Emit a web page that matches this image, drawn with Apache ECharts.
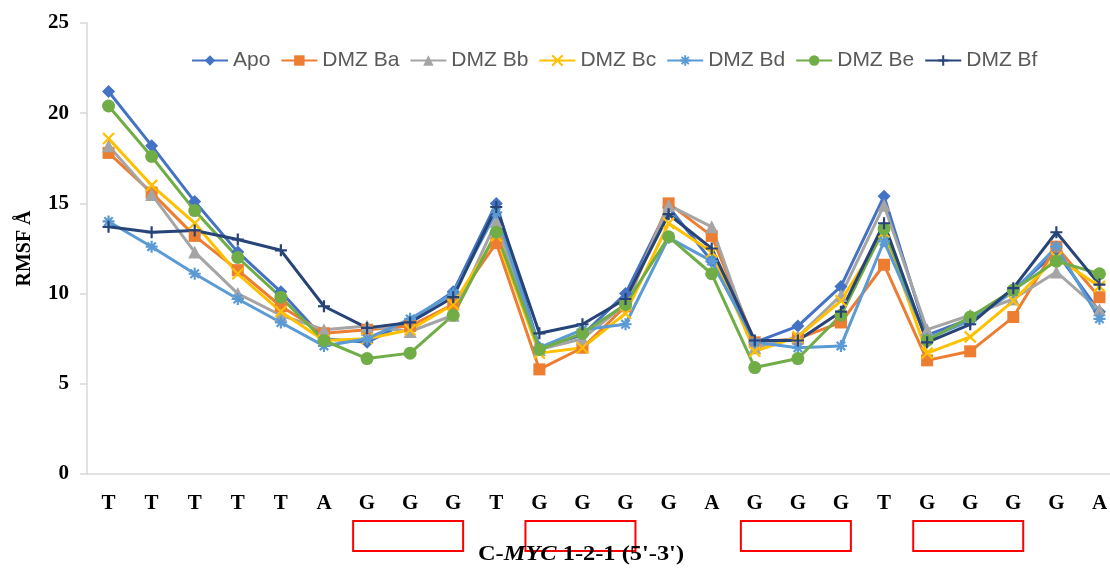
<!DOCTYPE html>
<html>
<head>
<meta charset="utf-8">
<script src="https://cdn.jsdelivr.net/npm/echarts@6/dist/echarts.min.js"></script>
<style>
  html, body { margin: 0; padding: 0; background: #fff; overflow: hidden; }
  #chart { width: 1130px; height: 569px; }
</style>
</head>
<body>
<div id="chart"></div>
<script>
// Nucleotide sequence of C-MYC 1-2-1 (5'-3')
const bases = ['T','T','T','T','T','A','G','G','G','T','G','G','G','G','A','G','G','G','T','G','G','G','G','A'];

// RMSF per residue (Å)
const apo   = [21.2,18.2,15.1,12.3,10.1,7.5,7.3,8.5,10.1,15.0,7.0,7.7,10.0,14.8,11.8,7.3,8.2,10.4,15.4,7.7,8.6,10.2,12.3,9.0];
const dmzBa = [17.8,15.6,13.2,11.3,9.3,7.8,8.0,8.2,9.4,12.8,5.8,7.0,9.3,15.0,13.2,7.3,7.5,8.4,11.6,6.3,6.8,8.7,12.6,9.8];
const dmzBb = [18.2,15.5,12.3,10.0,8.8,8.0,8.2,7.9,8.8,14.0,6.9,7.5,9.4,14.9,13.7,7.0,7.6,9.9,14.9,8.0,8.8,9.7,11.2,9.1];
const dmzBc = [18.6,16.0,13.9,11.1,9.0,7.4,7.5,8.0,9.4,13.2,6.7,7.0,8.9,13.9,12.3,6.8,7.6,9.6,13.4,6.7,7.6,9.6,12.0,10.4];
const dmzBd = [14.0,12.6,11.1,9.7,8.4,7.1,7.5,8.6,10.0,14.5,7.0,8.0,8.3,13.1,11.8,7.3,7.0,7.1,12.9,7.5,8.5,10.1,12.6,8.6];
const dmzBe = [20.4,17.6,14.6,12.0,9.8,7.4,6.4,6.7,8.8,13.4,6.9,7.8,9.4,13.15,11.1,5.9,6.4,8.8,13.6,7.4,8.7,10.2,11.8,11.1];
const dmzBf = [13.7,13.4,13.5,13.0,12.4,9.3,8.1,8.4,9.8,14.8,7.8,8.3,9.7,14.4,12.5,7.4,7.4,9.0,13.9,7.3,8.3,10.3,13.4,10.5];

// G-tracts highlighted under the axis (first and last index of each run)
const gTracts = [[6, 8], [10, 12], [15, 17], [19, 21]];

const serifBold = { fontFamily: 'Liberation Serif', fontWeight: 'bold', color: '#000' };

function lineSeries(name, data, color, symbol, size, stroked) {
  return {
    name: name,
    type: 'line',
    data: data,
    symbol: symbol,
    symbolSize: size,
    lineStyle: { color: color, width: 3 },
    itemStyle: stroked
      ? { color: color, borderColor: color, borderWidth: 2.2 }
      : { color: color, borderWidth: 0 },
    emphasis: { disabled: true },
    z: 2
  };
}

const crossPath = 'path://M0,0L10,10M10,0L0,10';
const starPath = 'path://M5,0L5,10M0,5L10,5M1.5,1.5L8.5,8.5M8.5,1.5L1.5,8.5';
const plusPath = 'path://M5,0L5,10M0,5L10,5';

const chart = echarts.init(document.getElementById('chart'), null, { renderer: 'canvas' });

chart.setOption({
  animation: false,
  backgroundColor: '#fff',
  legend: {
    left: 186,
    top: 45,
    itemWidth: 36,
    itemHeight: 13,
    itemGap: 10,
    textStyle: { fontFamily: 'Liberation Sans', fontSize: 21, color: '#595959' }
  },
  grid: { left: 87, top: 23, width: 1034, height: 451 },
  xAxis: {
    type: 'category',
    data: bases,
    boundaryGap: true,
    axisLine: { lineStyle: { color: '#d9d9d9', width: 1.5 } },
    axisTick: { inside: true, length: 6, lineStyle: { color: '#d9d9d9', width: 1.5 } },
    axisLabel: Object.assign({ fontSize: 21, margin: 19, interval: 0 }, serifBold),
    splitLine: { show: false }
  },
  yAxis: {
    type: 'value',
    min: 0,
    max: 25,
    interval: 5,
    name: 'RMSF Å',
    nameLocation: 'middle',
    nameGap: 52,
    nameRotate: 90,
    nameTextStyle: Object.assign({ fontSize: 20 }, serifBold),
    axisLine: { show: true, lineStyle: { color: '#d9d9d9', width: 1.5 } },
    axisTick: { show: true, length: 7, lineStyle: { color: '#d9d9d9', width: 1.5 } },
    axisLabel: Object.assign({ fontSize: 21, margin: 18 }, serifBold),
    splitLine: { show: false }
  },
  series: [
    lineSeries('Apo', apo, '#4472C4', 'diamond', 13, false),
    lineSeries('DMZ Ba', dmzBa, '#ED7D31', 'rect', 12, false),
    lineSeries('DMZ Bb', dmzBb, '#A5A5A5', 'triangle', 13, false),
    lineSeries('DMZ Bc', dmzBc, '#FFC000', crossPath, 11, true),
    lineSeries('DMZ Bd', dmzBd, '#5B9BD5', starPath, 12, true),
    lineSeries('DMZ Be', dmzBe, '#70AD47', 'circle', 13, false),
    lineSeries('DMZ Bf', dmzBf, '#264478', plusPath, 12, true)
  ]
});

// Red boxes marking each G-tract, placed from the category axis scale
const axisY = chart.convertToPixel({ yAxisIndex: 0 }, 0);
const boxes = gTracts.map(function (run) {
  const x0 = chart.convertToPixel({ xAxisIndex: 0 }, run[0]);
  const x1 = chart.convertToPixel({ xAxisIndex: 0 }, run[1]);
  const cx = (x0 + x1) / 2 - 2;
  return {
    type: 'rect',
    shape: { x: cx - 55, y: axisY + 47, width: 110, height: 30 },
    style: { fill: 'none', stroke: '#FF0000', lineWidth: 2 },
    silent: true
  };
});

// Sequence caption under the axis, gene name in italics
boxes.push({
  type: 'text',
  x: 478,
  y: 545,
  scaleX: 1.22,
  silent: true,
  style: {
    text: '{a|C-}{b|MYC}{a| 1-2-1 (5\'-3\')}',
    rich: {
      a: { fontFamily: 'Liberation Serif', fontWeight: 'bold', fontSize: 20, fill: '#000' },
      b: { fontFamily: 'Liberation Serif', fontWeight: 'bold', fontStyle: 'italic', fontSize: 20, fill: '#000' }
    }
  }
});
chart.setOption({ graphic: boxes });
</script>
</body>
</html>
